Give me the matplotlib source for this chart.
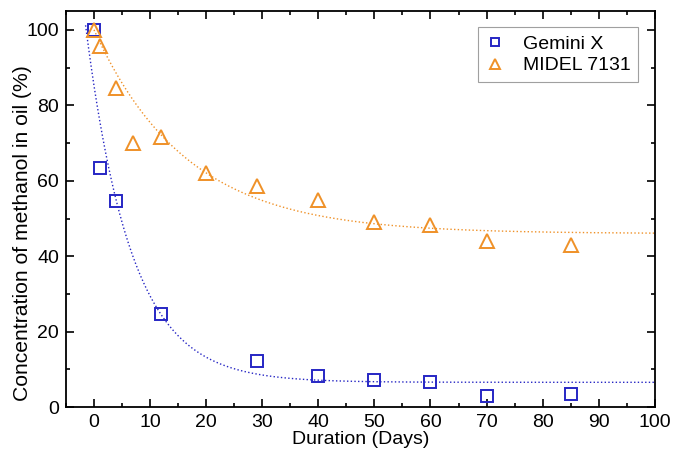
import matplotlib
matplotlib.use("Agg")
import matplotlib.pyplot as plt
import numpy as np
from matplotlib.ticker import MultipleLocator

plt.rcParams['font.family'] = ['Liberation Sans', 'DejaVu Sans']

days_gemini = [0, 1, 4, 12, 29, 40, 50, 60, 70, 85]
gemini = [100, 63.3, 54.7, 24.6, 12.3, 8.2, 7.2, 6.6, 3.0, 3.4]
days_midel = [0, 1, 4, 7, 12, 20, 29, 40, 50, 60, 70, 85]
midel = [100, 95.6, 84.7, 70.0, 71.5, 62.0, 58.5, 55.0, 49.1, 48.3, 44.1, 43.1]

# exponential decay fits shown in the figure: (plateau, amplitude, time constant)
gemini_fit = (6.6, 78.6, 8.1)
midel_fit = (46.0, 54.0, 16.5)

blue = '#2626c4'
orange = '#ef9128'


def decay(x, p):
    y0, a, t = p
    return y0 + a * np.exp(-x / t)


fig = plt.figure(figsize=(6.73, 4.55), dpi=100)
ax = fig.add_axes([0.098, 0.105, 0.875, 0.871])

xs = np.linspace(-1.5, 100, 600)
ax.plot(xs, decay(xs, gemini_fit), ':', color=blue, lw=1.0)
xs2 = np.linspace(0, 100, 600)
ax.plot(xs2, decay(xs2, midel_fit), ':', color=orange, lw=1.0)
ax.plot(days_gemini, gemini, 's', mfc='none', mec=blue, mew=1.4, ms=8, ls='none', label='Gemini X')
ax.plot(days_midel, midel, '^', mfc='none', mec=orange, mew=1.4, ms=9.5, ls='none', label='MIDEL 7131')

ax.set_xlim(-5, 100)
ax.set_ylim(0, 105)
ax.xaxis.set_major_locator(MultipleLocator(10))
ax.xaxis.set_minor_locator(MultipleLocator(5))
ax.yaxis.set_major_locator(MultipleLocator(20))
ax.yaxis.set_minor_locator(MultipleLocator(10))
ax.tick_params(which='both', direction='in', top=True, right=True, labelsize=14, width=1.2, pad=5)
ax.tick_params(which='major', length=6)
ax.tick_params(which='minor', length=3)
for s in ax.spines.values():
    s.set_linewidth(1.3)

ax.set_xlabel('Duration (Days)', fontsize=14, labelpad=0)
ax.set_ylabel('Concentration of methanol in oil (%)', fontsize=15.2)
ax.yaxis.set_label_coords(-0.058, 0.44)

leg = ax.legend(loc='upper right', fontsize=14, fancybox=False, edgecolor='#888888',
                handlelength=0.9, handletextpad=1.0, borderaxespad=0.85,
                labelspacing=0.2, markerscale=0.7)
leg.get_frame().set_linewidth(0.8)

fig.savefig('out.png', dpi=100)
